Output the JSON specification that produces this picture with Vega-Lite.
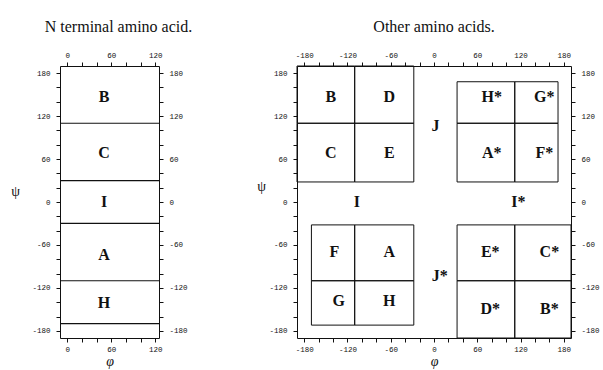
{
  "$schema": "https://vega.github.io/schema/vega-lite/v6.json",
  "background": "white",
  "padding": {"left": 10, "top": 18, "right": 0, "bottom": 0},
  "config": {
    "view": {"stroke": "#111", "strokeWidth": 1},
    "axis": {"grid": false, "domain": false, "tickColor": "#111", "tickSize": 4, "labelFont": "Liberation Mono", "labelFontSize": 7.5, "labelColor": "#111", "titleFont": "Liberation Serif", "titleFontStyle": "italic", "titleFontWeight": "normal", "titleFontSize": 14, "titleColor": "#111"},
    "title": {"font": "Liberation Serif", "fontSize": 16, "fontWeight": "normal", "color": "#111"},
    "concat": {"spacing": 63}
  },
  "datasets": {
    "nrules": [
      {"psi": 110, "phi_from": -10, "phi_to": 125},
      {"psi": 30, "phi_from": -10, "phi_to": 125},
      {"psi": -30, "phi_from": -10, "phi_to": 125},
      {"psi": -110, "phi_from": -10, "phi_to": 125},
      {"psi": -170, "phi_from": -10, "phi_to": 125}
    ],
    "nlabels": [
      {"label": "B", "phi": 50, "psi": 147},
      {"label": "C", "phi": 50, "psi": 68},
      {"label": "I", "phi": 50, "psi": 0},
      {"label": "A", "phi": 50, "psi": -74},
      {"label": "H", "phi": 50, "psi": -141}
    ],
    "boxes": [
      {"name": "B", "phi0": -190, "phi1": -110, "psi0": 110, "psi1": 190},
      {"name": "D", "phi0": -110, "phi1": -28, "psi0": 110, "psi1": 190},
      {"name": "C", "phi0": -190, "phi1": -110, "psi0": 28, "psi1": 110},
      {"name": "E", "phi0": -110, "phi1": -28, "psi0": 28, "psi1": 110},
      {"name": "H*", "phi0": 32, "phi1": 112, "psi0": 110, "psi1": 168},
      {"name": "G*", "phi0": 112, "phi1": 172, "psi0": 110, "psi1": 168},
      {"name": "A*", "phi0": 32, "phi1": 112, "psi0": 28, "psi1": 110},
      {"name": "F*", "phi0": 112, "phi1": 172, "psi0": 28, "psi1": 110},
      {"name": "F", "phi0": -170, "phi1": -110, "psi0": -110, "psi1": -32},
      {"name": "A", "phi0": -110, "phi1": -28, "psi0": -110, "psi1": -32},
      {"name": "G", "phi0": -170, "phi1": -110, "psi0": -172, "psi1": -110},
      {"name": "H", "phi0": -110, "phi1": -28, "psi0": -172, "psi1": -110},
      {"name": "E*", "phi0": 32, "phi1": 112, "psi0": -110, "psi1": -32},
      {"name": "C*", "phi0": 112, "phi1": 190, "psi0": -110, "psi1": -32},
      {"name": "D*", "phi0": 32, "phi1": 112, "psi0": -190, "psi1": -110},
      {"name": "B*", "phi0": 112, "phi1": 190, "psi0": -190, "psi1": -110}
    ],
    "olabels": [
      {"label": "B", "phi": -143, "psi": 147},
      {"label": "D", "phi": -62, "psi": 147},
      {"label": "C", "phi": -143, "psi": 69},
      {"label": "E", "phi": -62, "psi": 69},
      {"label": "H*", "phi": 80, "psi": 147},
      {"label": "G*", "phi": 153, "psi": 147},
      {"label": "A*", "phi": 80, "psi": 69},
      {"label": "F*", "phi": 153, "psi": 69},
      {"label": "J", "phi": 2, "psi": 106},
      {"label": "I", "phi": -107, "psi": 0},
      {"label": "I*", "phi": 117, "psi": 0},
      {"label": "J*", "phi": 8, "psi": -104},
      {"label": "F", "phi": -138, "psi": -70},
      {"label": "A", "phi": -62, "psi": -70},
      {"label": "G", "phi": -132, "psi": -139},
      {"label": "H", "phi": -62, "psi": -139},
      {"label": "E*", "phi": 78, "psi": -70},
      {"label": "C*", "phi": 160, "psi": -70},
      {"label": "D*", "phi": 78, "psi": -150},
      {"label": "B*", "phi": 160, "psi": -150}
    ]
  },
  "hconcat": [
    {
      "width": 99,
      "height": 272,
      "title": {"text": "N terminal amino acid.", "offset": 16, "dx": 9},
      "resolve": {"axis": {"x": "independent", "y": "independent"}},
      "layer": [
        {
          "data": {"name": "nrules"},
          "mark": {"type": "rule", "color": "#111", "strokeWidth": 1.2},
          "encoding": {
            "y": {"field": "psi", "type": "quantitative", "scale": {"domain": [-190, 190], "nice": false, "zero": false},
              "axis": {"orient": "left", "values": [-180, -160, -140, -120, -100, -80, -60, -40, -20, 0, 20, 40, 60, 80, 100, 120, 140, 160, 180], "labelExpr": "datum.value % 60 === 0 ? '' + datum.value : ''", "labelPadding": 6, "labelAlign": "right", "title": "ψ", "titleAngle": 0, "titleX": -45, "titleY": 132, "titleFontStyle": "normal"}},
            "x": {"field": "phi_from", "type": "quantitative", "scale": {"domain": [-10, 125], "nice": false, "zero": false},
              "axis": {"orient": "bottom", "values": [0, 20, 40, 60, 80, 100, 120], "labelExpr": "datum.value % 60 === 0 ? '' + datum.value : ''", "labelPadding": 3, "title": "φ", "titlePadding": 2}},
            "x2": {"field": "phi_to"}
          }
        },
        {
          "data": {"name": "nlabels"},
          "mark": {"type": "text", "font": "Liberation Serif", "fontWeight": "bold", "fontSize": 16, "color": "#111", "baseline": "middle", "align": "center"},
          "encoding": {
            "x": {"field": "phi", "type": "quantitative", "scale": {"domain": [-10, 125], "nice": false, "zero": false},
              "axis": {"orient": "top", "values": [0, 20, 40, 60, 80, 100, 120], "labelExpr": "datum.value % 60 === 0 ? '' + datum.value : ''", "labelPadding": 3, "title": null}},
            "y": {"field": "psi", "type": "quantitative", "scale": {"domain": [-190, 190], "nice": false, "zero": false},
              "axis": {"orient": "right", "values": [-180, -160, -140, -120, -100, -80, -60, -40, -20, 0, 20, 40, 60, 80, 100, 120, 140, 160, 180], "labelExpr": "datum.value % 60 === 0 ? '' + datum.value : ''", "labelPadding": 6, "title": null}},
            "text": {"field": "label"}
          }
        }
      ]
    },
    {
      "width": 274,
      "height": 272,
      "title": {"text": "Other amino acids.", "offset": 16},
      "resolve": {"axis": {"x": "independent", "y": "independent"}},
      "layer": [
        {
          "data": {"name": "boxes"},
          "mark": {"type": "rect", "fill": null, "fillOpacity": 0, "stroke": "#111", "strokeWidth": 1},
          "encoding": {
            "x": {"field": "phi0", "type": "quantitative", "scale": {"domain": [-190, 190], "nice": false, "zero": false},
              "axis": {"orient": "bottom", "values": [-180, -160, -140, -120, -100, -80, -60, -40, -20, 0, 20, 40, 60, 80, 100, 120, 140, 160, 180], "labelExpr": "datum.value % 60 === 0 ? '' + datum.value : ''", "labelPadding": 3, "title": "φ", "titlePadding": 2}},
            "x2": {"field": "phi1"},
            "y": {"field": "psi0", "type": "quantitative", "scale": {"domain": [-190, 190], "nice": false, "zero": false},
              "axis": {"orient": "left", "values": [-180, -160, -140, -120, -100, -80, -60, -40, -20, 0, 20, 40, 60, 80, 100, 120, 140, 160, 180], "labelExpr": "datum.value % 60 === 0 ? '' + datum.value : ''", "labelPadding": 6, "labelAlign": "right", "title": "ψ", "titleAngle": 0, "titleX": -36, "titleY": 127, "titleFontStyle": "normal"}},
            "y2": {"field": "psi1"}
          }
        },
        {
          "data": {"name": "olabels"},
          "mark": {"type": "text", "font": "Liberation Serif", "fontWeight": "bold", "fontSize": 16, "color": "#111", "baseline": "middle", "align": "center"},
          "encoding": {
            "x": {"field": "phi", "type": "quantitative", "scale": {"domain": [-190, 190], "nice": false, "zero": false},
              "axis": {"orient": "top", "values": [-180, -160, -140, -120, -100, -80, -60, -40, -20, 0, 20, 40, 60, 80, 100, 120, 140, 160, 180], "labelExpr": "datum.value % 60 === 0 ? '' + datum.value : ''", "labelPadding": 3, "title": null}},
            "y": {"field": "psi", "type": "quantitative", "scale": {"domain": [-190, 190], "nice": false, "zero": false},
              "axis": {"orient": "right", "values": [-180, -160, -140, -120, -100, -80, -60, -40, -20, 0, 20, 40, 60, 80, 100, 120, 140, 160, 180], "labelExpr": "datum.value % 60 === 0 ? '' + datum.value : ''", "labelPadding": 6, "title": null}},
            "text": {"field": "label"}
          }
        }
      ]
    }
  ]
}
